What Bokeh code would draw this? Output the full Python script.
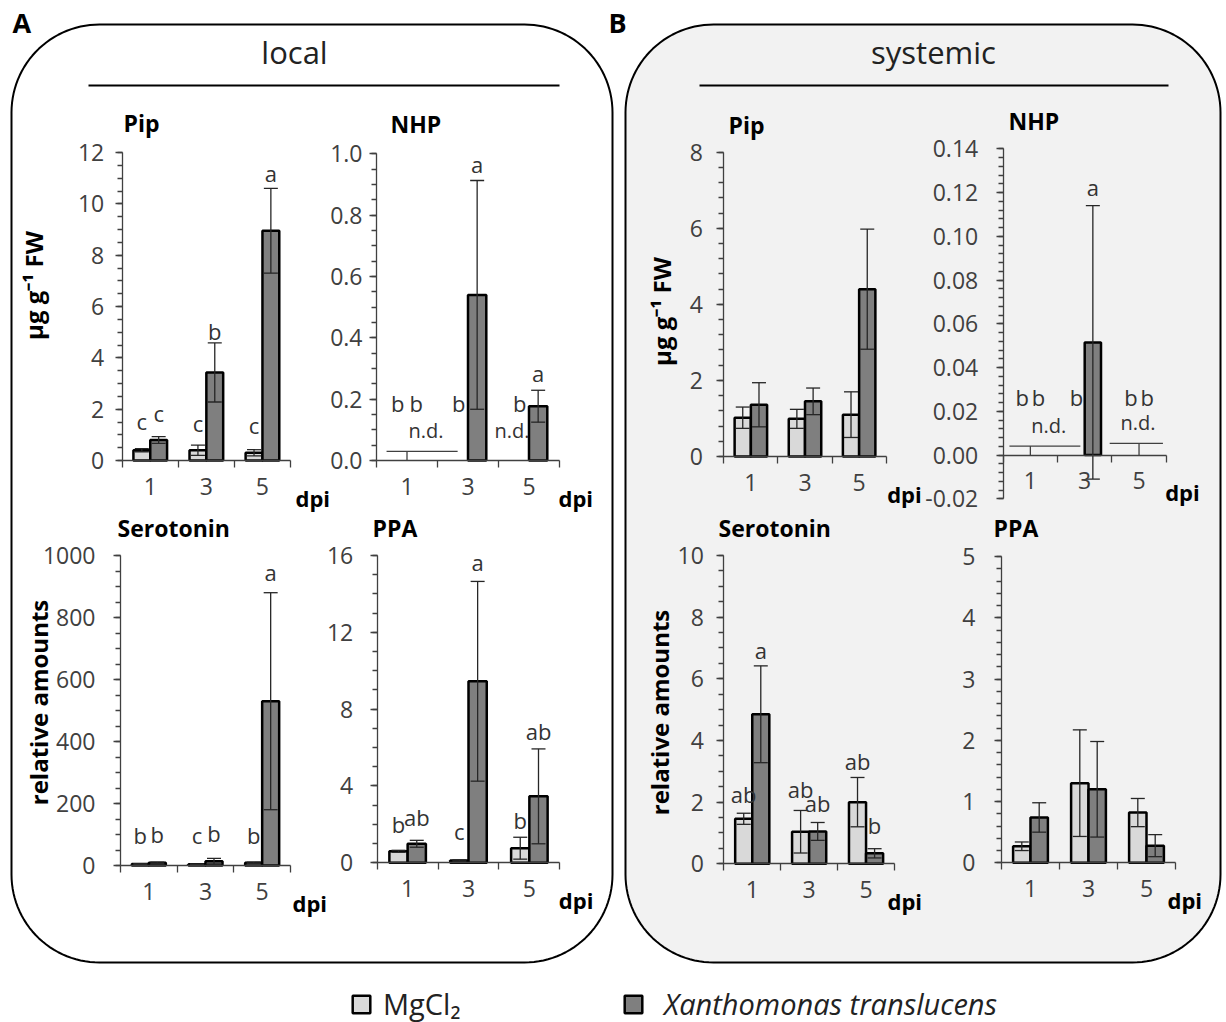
import numpy as np
from bokeh.plotting import figure
from bokeh.models import (Range1d, LinearAxis, FixedTicker, Legend, LegendItem,
                          NumeralTickFormatter)
from bokeh.core.properties import value
from bokeh.embed import file_html
from bokeh.resources import INLINE

W, H = 1226, 1022
FONT = "Open Sans"

# ---------------- data ----------------
days = [1, 3, 5]
groups = ["MgCl₂", "Xanthomonas translucens"]

# local (panel A)
local_pip_mg = [0.40, 0.40, 0.30]
local_pip_mg_sd = [0.06, 0.20, 0.12]
local_pip_xt = [0.80, 3.43, 8.95]
local_pip_xt_sd = [0.13, 1.15, 1.65]
local_pip_letters = ["c", "c", "c", "b", "c", "a"]      # MgCl2 d1, Xt d1, MgCl2 d3, Xt d3, MgCl2 d5, Xt d5

local_nhp_mg = [0.0, 0.0, 0.0]
local_nhp_mg_sd = [0.0, 0.0, 0.0]
local_nhp_xt = [0.0, 0.54, 0.177]
local_nhp_xt_sd = [0.0, 0.373, 0.052]
local_nhp_letters = ["b", "b", "b", "a", "b", "a"]

local_ser_mg = [5.0, 4.0, 9.0]
local_ser_mg_sd = [1.0, 1.0, 2.0]
local_ser_xt = [9.0, 14.0, 530.0]
local_ser_xt_sd = [2.0, 9.0, 350.0]
local_ser_letters = ["b", "b", "c", "b", "b", "a"]

local_ppa_mg = [0.60, 0.12, 0.76]
local_ppa_mg_sd = [0.05, 0.03, 0.57]
local_ppa_xt = [0.99, 9.45, 3.46]
local_ppa_xt_sd = [0.18, 5.20, 2.47]
local_ppa_letters = ["b", "ab", "c", "a", "b", "ab"]

# systemic (panel B)
sys_pip_mg = [1.02, 0.99, 1.10]
sys_pip_mg_sd = [0.28, 0.25, 0.60]
sys_pip_xt = [1.36, 1.45, 4.40]
sys_pip_xt_sd = [0.58, 0.35, 1.58]
sys_pip_letters = ["", "", "", "", "", ""]

sys_nhp_mg = [0.0, 0.0, 0.0]
sys_nhp_mg_sd = [0.0, 0.0, 0.0]
sys_nhp_xt = [0.0, 0.0515, 0.0]
sys_nhp_xt_sd = [0.0, 0.0625, 0.0]
sys_nhp_letters = ["b", "b", "b", "a", "b", "b"]

sys_ser_mg = [1.46, 1.04, 2.00]
sys_ser_mg_sd = [0.18, 0.69, 0.80]
sys_ser_xt = [4.85, 1.05, 0.34]
sys_ser_xt_sd = [1.57, 0.29, 0.15]
sys_ser_letters = ["ab", "a", "ab", "ab", "ab", "b"]

sys_ppa_mg = [0.27, 1.30, 0.82]
sys_ppa_mg_sd = [0.07, 0.87, 0.23]
sys_ppa_xt = [0.74, 1.20, 0.28]
sys_ppa_xt_sd = [0.24, 0.78, 0.18]
sys_ppa_letters = ["", "", "", "", "", ""]

# annotation heights (data units) of the significance letters (baseline)
local_pip_letter_y = [1.17, 1.49, 1.10, 4.67, 1.04, 10.84]
local_nhp_letter_y = [0.157, 0.157, 0.157, 0.935, 0.157, 0.255]
local_ser_letter_y = [67, 73, 67, 75, 67, 917]
local_ppa_letter_y = [1.54, 1.89, 1.20, 15.19, 1.77, 6.37]
sys_pip_letter_y = [0, 0, 0, 0, 0, 0]
sys_nhp_letter_y = [0.0224, 0.0224, 0.0224, 0.1184, 0.0224, 0.0224]
sys_ser_letter_y = [1.97, 6.65, 2.14, 1.67, 3.05, 0.95]
sys_ppa_letter_y = [0, 0, 0, 0, 0, 0]

# "n.d." marks: (text x, text y) and lines (x start, x end, y, drop x)
local_nhp_nd_text = [(1.62, 0.07), (4.44, 0.07)]
local_nhp_nd_lines = [(0.33, 2.66, 0.03, 1.0)]
sys_nhp_nd_text = [(1.68, 0.0095), (4.96, 0.011)]
sys_nhp_nd_lines = [(0.23, 2.84, 0.0041, 1.0), (3.92, 5.88, 0.0053, 5.0)]

# ---------------- styling ----------------
LIGHT = "#d9d9d9"
DARK = "#7f7f7f"
AXC = "#404040"
LBL = "#404040"
BAR_W = 0.6
OFF = 0.3
BASE_K = 0.42   # shift used to place the alphabetic baseline


def bl(fs):
    return -BASE_K * fs


def ticks(lo, hi, step):
    n = int(round((hi - lo) / step))
    return [round(lo + i * step, 6) for i in range(n + 1)]


specs = [
    dict(key="lpip", x0=121.7, x1=290.0, pyb=460.0, pyt=152.0, ymin=0, ymax=12, major=2, minor=0.5, fmt="0",
         standoff=11, title="Pip", tx=123, ty=132, dpi_dx=5,
         mg=local_pip_mg, mg_sd=local_pip_mg_sd, xt=local_pip_xt, xt_sd=local_pip_xt_sd,
         letters=local_pip_letters, letter_y=local_pip_letter_y),
    dict(key="lnhp", x0=376.0, x1=559.0, pyb=460.0, pyt=153.3, ymin=0, ymax=1.0, major=0.2, minor=0.05, fmt="0.0",
         standoff=7, title="NHP", tx=390, ty=133, dpi_dx=-1,
         mg=local_nhp_mg, mg_sd=local_nhp_mg_sd, xt=local_nhp_xt, xt_sd=local_nhp_xt_sd,
         letters=local_nhp_letters, letter_y=local_nhp_letter_y,
         nd_text=local_nhp_nd_text, nd_lines=local_nhp_nd_lines),
    dict(key="lser", x0=120.0, x1=290.0, pyb=865.0, pyt=555.0, ymin=0, ymax=1000, major=200, minor=50, fmt="0",
         standoff=18, title="Serotonin", tx=117, ty=537, dpi_dx=2,
         mg=local_ser_mg, mg_sd=local_ser_mg_sd, xt=local_ser_xt, xt_sd=local_ser_xt_sd,
         letters=local_ser_letters, letter_y=local_ser_letter_y),
    dict(key="lppa", x0=376.7, x1=559.3, pyb=862.3, pyt=555.0, ymin=0, ymax=16, major=4, minor=1, fmt="0",
         standoff=17, title="PPA", tx=372, ty=537, dpi_dx=-1,
         mg=local_ppa_mg, mg_sd=local_ppa_mg_sd, xt=local_ppa_xt, xt_sd=local_ppa_xt_sd,
         letters=local_ppa_letters, letter_y=local_ppa_letter_y),
    dict(key="spip", x0=723.3, x1=885.7, pyb=456.0, pyt=151.7, ymin=0, ymax=8, major=2, minor=0.4, fmt="0",
         standoff=14, title="Pip", tx=728, ty=134, dpi_dx=1,
         mg=sys_pip_mg, mg_sd=sys_pip_mg_sd, xt=sys_pip_xt, xt_sd=sys_pip_xt_sd,
         letters=sys_pip_letters, letter_y=sys_pip_letter_y),
    dict(key="snhp", x0=1002.7, x1=1165.7, pyb=498.3, pyt=148.3, ymin=-0.02, ymax=0.14, major=0.02, minor=0.004,
         fmt="0.00", standoff=18, title="NHP", tx=1008, ty=130, dpi_dx=-1,
         mg=sys_nhp_mg, mg_sd=sys_nhp_mg_sd, xt=sys_nhp_xt, xt_sd=sys_nhp_xt_sd,
         letters=sys_nhp_letters, letter_y=sys_nhp_letter_y,
         nd_text=sys_nhp_nd_text, nd_lines=sys_nhp_nd_lines),
    dict(key="sser", x0=723.3, x1=894.0, pyb=863.3, pyt=555.0, ymin=0, ymax=10, major=2, minor=0.5, fmt="0",
         standoff=13, title="Serotonin", tx=718, ty=537, dpi_dx=-7,
         mg=sys_ser_mg, mg_sd=sys_ser_mg_sd, xt=sys_ser_xt, xt_sd=sys_ser_xt_sd,
         letters=sys_ser_letters, letter_y=sys_ser_letter_y),
    dict(key="sppa", x0=1001.0, x1=1175.0, pyb=862.3, pyt=556.0, ymin=0, ymax=5, major=1, minor=0.2, fmt="0",
         standoff=19, title="PPA", tx=993, ty=537, dpi_dx=-8,
         mg=sys_ppa_mg, mg_sd=sys_ppa_mg_sd, xt=sys_ppa_xt, xt_sd=sys_ppa_xt_sd,
         letters=sys_ppa_letters, letter_y=sys_ppa_letter_y),
]

p = figure(width=W, height=H, x_range=Range1d(0, W), y_range=Range1d(0, H),
           x_axis_type=None, y_axis_type=None, toolbar_location=None,
           output_backend="svg", min_border=0, outline_line_color=None,
           background_fill_color="white", border_fill_color="white")


def Y(py):
    return H - py


def rounded(l, r, t, b, rad, n=30):
    xs, ys = [], []
    corners = [(r - rad, t + rad, -90, 0), (r - rad, b - rad, 0, 90),
               (l + rad, b - rad, 90, 180), (l + rad, t + rad, 180, 270)]
    for cx, cy, a0, a1 in corners:
        for a in np.linspace(np.radians(a0), np.radians(a1), n):
            xs.append(cx + rad * np.cos(a))
            ys.append(Y(cy + rad * np.sin(a)))
    return xs, ys


# panel boxes
bx, by = rounded(11, 612, 24, 962, 88)
p.patch(bx, by, fill_color="white", line_color="black", line_width=2, level="underlay")
bx, by = rounded(625, 1220, 24, 962, 88)
p.patch(bx, by, fill_color="#f2f2f2", line_color="black", line_width=2, level="underlay")

# panel letters and headers
FS_AB = 27
p.text(x=[12, 608], y=[Y(33), Y(33)], text=["A", "B"], text_font=value(FONT), text_font_style="bold",
       text_font_size=f"{FS_AB}px", text_color="black", text_baseline="alphabetic", y_offset=bl(FS_AB))
FS_HEAD = 31
p.text(x=[294, 933], y=[Y(65), Y(65)], text=["local", "systemic"], text_font=value(FONT),
       text_font_size=f"{FS_HEAD}px", text_color="#222222", text_align="center", text_baseline="alphabetic",
       y_offset=bl(FS_HEAD))
p.segment(x0=[88, 699], y0=[Y(85), Y(85)], x1=[559, 1168], y1=[Y(85), Y(85)], line_color="black", line_width=2)

# y-axis titles
p.text(x=[33, 661], y=[Y(285), Y(311)], text=["µg g⁻¹ FW", "µg g⁻¹ FW"], angle=np.pi / 2,
       text_font=value(FONT), text_font_style="bold", text_font_size="24px", text_color="black",
       text_align="center", text_baseline="middle")
p.text(x=[38, 659], y=[Y(702), Y(712)], text=["relative amounts", "relative amounts"], angle=np.pi / 2,
       text_font=value(FONT), text_font_style="bold", text_font_size="24px", text_color="black",
       text_align="center", text_baseline="middle")

FS_TICK = 23
FS_LET = 22
FS_ND = 20
FS_TITLE = 23

legend_renderers = None
for s in specs:
    k = s["key"]
    xn, yn = "x_" + k, "y_" + k
    sx = 6.0 / (s["x1"] - s["x0"])
    p.extra_x_ranges[xn] = Range1d(start=-s["x0"] * sx, end=6 + (W - s["x1"]) * sx)
    sy = (s["ymax"] - s["ymin"]) / (s["pyb"] - s["pyt"])
    p.extra_y_ranges[yn] = Range1d(start=s["ymin"] - (H - s["pyb"]) * sy, end=s["ymax"] + s["pyt"] * sy)
    kw = dict(x_range_name=xn, y_range_name=yn)

    # bars
    rs = []
    for vals, off, col in [(s["mg"], -OFF, LIGHT), (s["xt"], OFF, DARK)]:
        xs = [d + off for d, v in zip(days, vals) if v > 0]
        tops = [v for v in vals if v > 0]
        r = p.vbar(x=xs, top=tops, bottom=0, width=BAR_W, fill_color=col, line_color="black",
                   line_width=2.5, **kw)
        rs.append(r)
    if legend_renderers is None:
        legend_renderers = rs
    # error bars
    for vals, sds, off in [(s["mg"], s["mg_sd"], -OFF), (s["xt"], s["xt_sd"], OFF)]:
        ex = [d + off for d, v, e in zip(days, vals, sds) if e > 0]
        lo = [v - e for v, e in zip(vals, sds) if e > 0]
        hi = [v + e for v, e in zip(vals, sds) if e > 0]
        if ex:
            p.segment(x0=ex, y0=lo, x1=ex, y1=hi, line_color="#262626", line_width=1.3, **kw)
            p.scatter(x=ex + ex, y=lo + hi, marker="dash", size=14, line_color="#262626", line_width=1.3, **kw)

    # significance letters
    lx, ly, lt = [], [], []
    for i, d in enumerate(days):
        for j, off in enumerate([-OFF, OFF]):
            t = s["letters"][2 * i + j]
            if t:
                lx.append(d + off)
                ly.append(s["letter_y"][2 * i + j])
                lt.append(t)
    if lt:
        p.text(x=lx, y=ly, text=lt, text_font=value(FONT), text_font_size=f"{FS_LET}px", text_color="#333333",
               text_align="center", text_baseline="alphabetic", y_offset=bl(FS_LET), **kw)

    # n.d. marks
    if "nd_text" in s:
        p.text(x=[a for a, b in s["nd_text"]], y=[b for a, b in s["nd_text"]], text=["n.d."] * len(s["nd_text"]),
               text_font=value(FONT), text_font_size=f"{FS_ND}px", text_color="#333333", text_align="center",
               text_baseline="alphabetic", y_offset=bl(FS_ND), **kw)
        for (a0, a1, yy, dx) in s["nd_lines"]:
            p.segment(x0=[a0, dx], y0=[yy, 0], x1=[a1, dx], y1=[yy, yy], line_color=AXC, line_width=1.3, **kw)

    # axes
    yax = LinearAxis(fixed_location=0, bounds=(s["ymin"], s["ymax"]),
                     ticker=FixedTicker(ticks=ticks(s["ymin"], s["ymax"], s["major"]),
                                        minor_ticks=ticks(s["ymin"], s["ymax"], s["minor"])),
                     formatter=NumeralTickFormatter(format=s["fmt"]),
                     axis_line_color=AXC, axis_line_width=1.3,
                     major_tick_line_color=AXC, major_tick_line_width=1.3, major_tick_out=7, major_tick_in=0,
                     minor_tick_line_color=AXC, minor_tick_line_width=1.3, minor_tick_out=5, minor_tick_in=0,
                     major_label_standoff=s["standoff"], major_label_text_font=FONT,
                     major_label_text_font_size=f"{FS_TICK}px", major_label_text_color=LBL, **kw)
    p.add_layout(yax, "left")
    xax = LinearAxis(fixed_location=0, bounds=(0, 6),
                     ticker=FixedTicker(ticks=days, minor_ticks=[0, 2, 4, 6]),
                     formatter=NumeralTickFormatter(format="0"),
                     axis_line_color=AXC, axis_line_width=1.3,
                     major_tick_out=0, major_tick_in=0, major_tick_line_color=None,
                     minor_tick_line_color=AXC, minor_tick_line_width=1.3, minor_tick_out=7, minor_tick_in=0,
                     major_label_standoff=10, major_label_text_font=FONT,
                     major_label_text_font_size=f"{FS_TICK}px", major_label_text_color=LBL, **kw)
    p.add_layout(xax, "below")

    p.text(x=[6], y=[0], text=["dpi"], x_offset=s["dpi_dx"], y_offset=37, text_font=value(FONT),
           text_font_style="bold", text_font_size="22px", text_color="black", text_align="left",
           text_baseline="middle", **kw)

    # subplot title
    p.text(x=[s["tx"]], y=[Y(s["ty"])], text=[s["title"]], text_font=value(FONT), text_font_style="bold",
           text_font_size=f"{FS_TITLE}px", text_color="black", text_align="left", text_baseline="alphabetic",
           y_offset=bl(FS_TITLE))

# legend
leg1 = Legend(items=[LegendItem(label=value(groups[0]), renderers=[legend_renderers[0]])],
              location=(350, -1), orientation="horizontal", label_text_font=FONT, label_text_font_size="29px",
              label_text_color="#222222", glyph_width=22, glyph_height=22, label_standoff=11, padding=0,
              margin=0, border_line_color=None, background_fill_alpha=0)
leg2 = Legend(items=[LegendItem(label=value(groups[1]), renderers=[legend_renderers[1]])],
              location=(622, -1), orientation="horizontal", label_text_font=FONT, label_text_font_size="29px",
              label_text_font_style="italic", label_text_color="#222222", glyph_width=22, glyph_height=22,
              label_standoff=20, padding=0, margin=0, border_line_color=None, background_fill_alpha=0)
p.add_layout(leg1)
p.add_layout(leg2)

open("out.html", "w").write(file_html(p, INLINE))
